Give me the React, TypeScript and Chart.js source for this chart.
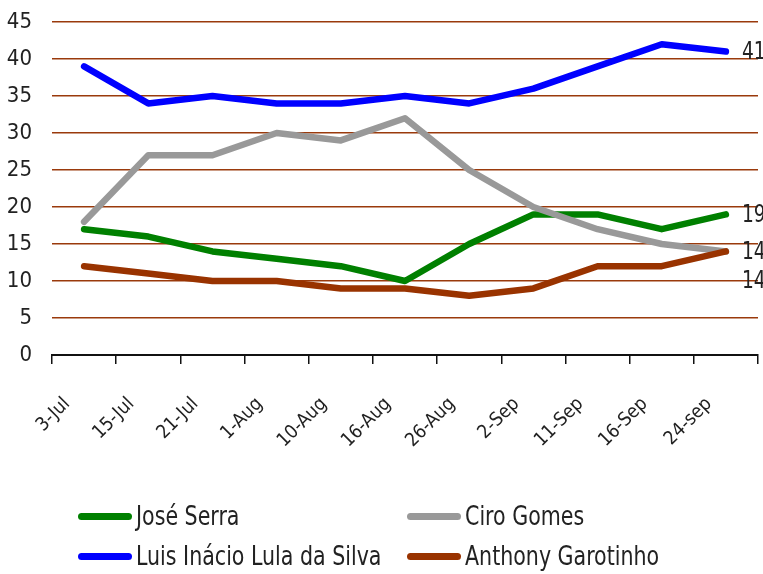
import React, { useEffect, useRef } from "react";
import { Chart, registerables } from "chart.js";

Chart.register(...registerables);

const categories = ["3-Jul", "15-Jul", "21-Jul", "1-Aug", "10-Aug", "16-Aug", "26-Aug", "2-Sep", "11-Sep", "16-Sep", "24-sep"];
const serra = [17, 16, 14, 13, 12, 10, 15, 19, 19, 17, 19];
const ciro = [18, 27, 27, 30, 29, 32, 25, 20, 17, 15, 14];
const lula = [39, 34, 35, 34, 34, 35, 34, 36, 39, 42, 41];
const garotinho = [12, 11, 10, 10, 9, 9, 8, 9, 12, 12, 14];
const seriesNames = ["José Serra", "Ciro Gomes", "Luis Inácio Lula da Silva", "Anthony Garotinho"];
const seriesColors = ["#008000", "#999999", "#0000FF", "#993300"];
const yTicks = [0, 5, 10, 15, 20, 25, 30, 35, 40, 45];

const FONT = "'Liberation Sans Narrow', 'Arial Narrow', 'DejaVu Sans Condensed', sans-serif";
const TEXT = "#222222";

// vertical shift of each end-of-line value label
const endLabelShift = [0, 0, 0, 29];

const endLabels = {
  id: "endLabels",
  afterDatasetsDraw(chart: any) {
    const ctx = chart.ctx;
    ctx.save();
    ctx.font = `23px ${FONT}`;
    ctx.fillStyle = TEXT;
    ctx.textAlign = "left";
    ctx.textBaseline = "middle";
    chart.data.datasets.forEach((ds: any, i: number) => {
      const meta = chart.getDatasetMeta(i);
      const pt = meta.data[meta.data.length - 1];
      const v = ds.data[ds.data.length - 1];
      const x = pt.x + 16;
      const y = pt.y + 1 + endLabelShift[i];
      ctx.save();
      ctx.translate(x, y);
      ctx.scale(0.9, 1.08);
      ctx.fillText(String(v), 0, 0);
      ctx.restore();
    });
    ctx.restore();
  },
};

export default function App() {
  const ref = useRef<HTMLCanvasElement | null>(null);

  useEffect(() => {
    if (!ref.current) return;
    const values = [serra, ciro, lula, garotinho];
    const chart = new Chart(ref.current, {
      type: "line",
      data: {
        labels: categories,
        datasets: values.map((d, i) => ({
          label: seriesNames[i],
          data: d,
          borderColor: seriesColors[i],
          backgroundColor: seriesColors[i],
          borderWidth: 6.5,
          borderCapStyle: "round",
          borderJoinStyle: "round",
          pointRadius: 0,
          tension: 0,
          order: 3 - i,
        })),
      },
      options: {
        responsive: false,
        animation: false,
        events: [],
        layout: { padding: { top: 22, right: 5, bottom: 119, left: 0 } },
        plugins: { legend: { display: false }, tooltip: { enabled: false } },
        scales: {
          x: {
            type: "category",
            offset: true,
            afterFit: (s: any) => {
              s.height = 100;
              s.paddingLeft = 0;
              s.paddingRight = 0;
              s.paddingTop = 0;
              s.paddingBottom = 0;
            },
            grid: {
              offset: true,
              drawOnChartArea: false,
              drawTicks: true,
              tickLength: 9,
              color: "#111111",
              lineWidth: 1.5,
            },
            border: { display: true, color: "#111111", width: 2 },
            ticks: {
              autoSkip: false,
              maxRotation: 45,
              minRotation: 45,
              padding: 29,
              labelOffset: -17,
              color: TEXT,
              font: { family: FONT, size: 19 },
            },
          },
          y: {
            min: 0,
            max: 45,
            afterFit: (s: any) => {
              s.width = 52;
              s.paddingTop = 0;
              s.paddingBottom = 0;
              s.paddingLeft = 0;
              s.paddingRight = 0;
            },
            afterBuildTicks: (s: any) => { s.ticks = yTicks.map((v) => ({ value: v })); },
            grid: {
              drawTicks: false,
              color: (c: any) => (c.tick && c.tick.value === 0 ? "rgba(0,0,0,0)" : "#9A3A0C"),
              lineWidth: 1.5,
            },
            border: { display: false },
            ticks: {
              padding: 20,
              color: TEXT,
              font: { family: FONT, size: 22 },
            },
          },
        },
      },
      plugins: [endLabels],
    });
    return () => chart.destroy();
  }, []);

  const legendItems = [
    { i: 0, x: 78, y: 516 },
    { i: 1, x: 407, y: 516 },
    { i: 2, x: 78, y: 556 },
    { i: 3, x: 407, y: 556 },
  ];

  return (
    <div style={{ position: "absolute", left: 0, top: 0, width: 763, height: 574, background: "#fff", overflow: "hidden" }}>
      <canvas ref={ref} width={763} height={574} style={{ display: "block", width: 763, height: 574 }} />
      {legendItems.map((it) => (
        <div key={it.i}>
          <div
            style={{
              position: "absolute",
              left: it.x,
              top: it.y - 3.5,
              width: 54,
              height: 7,
              borderRadius: 3.5,
              background: seriesColors[it.i],
            }}
          />
          <div
            style={{
              position: "absolute",
              left: it.x + 58,
              top: it.y - 16,
              height: 32,
              lineHeight: "32px",
              fontFamily: FONT,
              fontSize: 26,
              color: TEXT,
              whiteSpace: "nowrap",
              transform: "scaleX(0.88)",
              transformOrigin: "left center",
            }}
          >
            {seriesNames[it.i]}
          </div>
        </div>
      ))}
    </div>
  );
}
